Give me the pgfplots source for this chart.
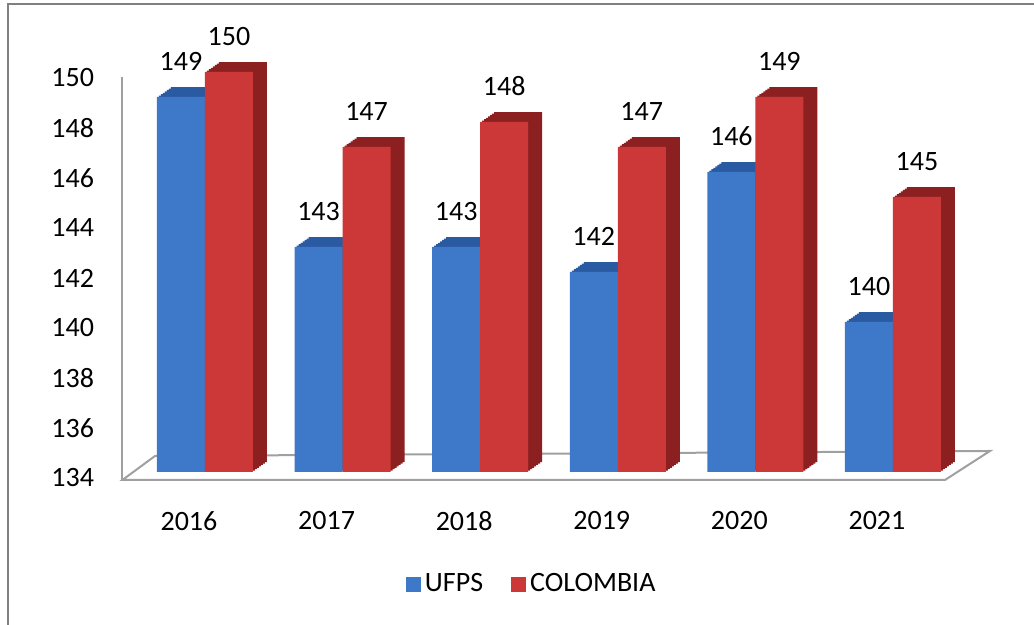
\documentclass[border=0pt]{standalone}
\usepackage{fontspec}
\setmainfont{Carlito}
\usepackage{pgfplots}
\usepackage{pgfplotstable}
\pgfplotsset{compat=1.18}
\usetikzlibrary{backgrounds}
\definecolor{ublue}{RGB}{62,121,201}
\definecolor{ubluedk}{RGB}{42,90,162}
\definecolor{cred}{RGB}{204,56,56}
\definecolor{creddk}{RGB}{140,32,32}
\definecolor{framec}{RGB}{128,128,128}
\definecolor{floorc}{RGB}{160,160,160}

\pgfplotstableread{
x ufps colombia
0 149 150
1 143 147
2 143 148
3 142 147
4 146 149
5 140 145
}\datatable

\begin{document}
\fontsize{14pt}{16pt}\selectfont
\begin{tikzpicture}
\useasboundingbox (0,0) rectangle (517pt,312.5pt);
\draw[framec, line width=1pt] (4pt,0) -- (4pt,310.5pt) -- (517pt,310.5pt);
\begin{axis}[
  at={(61.2pt,76.5pt)}, anchor=south west,
  scale only axis, width=426.56pt, height=225pt,
  xmin=-0.6, xmax=5.6, ymin=134, ymax=152,
  axis line style={draw=none}, major tick length=0pt,
  xtick={0,1,2,3,4,5}, xticklabels={2016,2017,2018,2019,2020,2021},
  ytick={134,136,...,150},
  yticklabel style={xshift=-9.3pt, yshift=-3pt},
  xticklabel style={xshift=-8pt, yshift=-14.9pt},
  /pgf/number format/assume math mode=true,
  /pgf/number format/1000 sep={},
  ybar, bar width=24pt,
  legend style={at={(0.481,-0.251)}, anchor=center, draw=none, fill=none,
    legend columns=2, /tikz/every even column/.append style={column sep=12pt}},
  legend image code/.code={\fill[#1] (0pt,-3.75pt) rectangle (7.5pt,3.75pt);},
]
\pgfplotsinvokeforeach{1,2,3,4,5,6,7}{
  \addplot[forget plot, fill=ubluedk, draw=none, bar shift=-12pt, xshift=#1pt, yshift=0.7*#1pt] table[x=x,y=ufps]{\datatable};
}
\addplot[fill=ublue, draw=none, bar shift=-12pt, nodes near coords,
  nodes near coords style={text=black, yshift=8.4pt}] table[x=x,y=ufps]{\datatable};
\addlegendentry{UFPS}
\pgfplotsinvokeforeach{1,2,3,4,5,6,7}{
  \addplot[forget plot, fill=creddk, draw=none, bar shift=12pt, xshift=#1pt, yshift=0.7*#1pt] table[x=x,y=colombia]{\datatable};
}
\addplot[fill=cred, draw=none, bar shift=12pt, nodes near coords,
  nodes near coords style={text=black, yshift=8.4pt}] table[x=x,y=colombia]{\datatable};
\addlegendentry{COLOMBIA}
\coordinate (f1) at (axis cs:-0.6,133.68);
\coordinate (f2) at (axis cs:5.378,133.68);
\coordinate (f3) at (axis cs:5.705,134.84);
\coordinate (f4) at (axis cs:-0.363,134.64);
\coordinate (a1) at (axis cs:-0.6,149.8);
\end{axis}
\begin{scope}[on background layer]
\draw[floorc, line width=1pt, fill=white] (f1)--(f2)--(f3)--(f4)--cycle;
\draw[floorc, line width=1pt] (a1)--(f1);
\end{scope}
\end{tikzpicture}
\end{document}
